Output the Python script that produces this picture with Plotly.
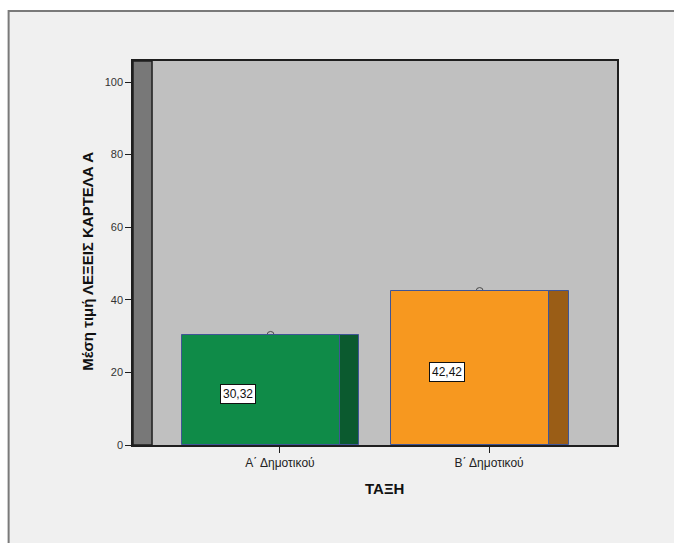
import plotly.graph_objects as go

# Mean score per grade
categories = ["Α΄ Δημοτικού", "Β΄ Δημοτικού"]
values = [30.32, 42.42]
front_colors = ["#0f8b48", "#f7981f"]
side_colors = ["#0b5a2f", "#9a5d16"]
y_ticks = [0, 20, 40, 60, 80, 100]

FONT = "Liberation Sans, Arial, sans-serif"
X_RANGE = [-0.703, 1.612]
WALL_END = -0.612
FRONT_OFFSET, FRONT_WIDTH = -0.468, 0.755
SIDE_OFFSET, SIDE_WIDTH = 0.287, 0.093
MARK_SHIFT = -0.045

fig = go.Figure()

# front faces of the pseudo-3D bars
fig.add_trace(go.Bar(
    x=categories, y=values, offset=FRONT_OFFSET, width=FRONT_WIDTH,
    marker=dict(color=front_colors, line=dict(color="#3f5596", width=1)),
    hoverinfo="skip", showlegend=False,
))
# right-hand depth faces
fig.add_trace(go.Bar(
    x=categories, y=values, offset=SIDE_OFFSET, width=SIDE_WIDTH,
    marker=dict(color=side_colors, line=dict(color="#3f5596", width=1)),
    hoverinfo="skip", showlegend=False,
))

shapes = [
    # outer chart frame
    dict(type="rect", xref="paper", yref="paper", x0=-0.257, x1=1.3, y0=-0.4, y1=1.13,
         fillcolor="#f0f0f0", line=dict(color="#7a7a7a", width=2), layer="below"),
    # back panel of the plotting box
    dict(type="rect", xref="paper", yref="paper", x0=0, x1=1, y0=0, y1=1,
         fillcolor="#c0c0c0", line=dict(width=0), layer="below"),
    # left wall of the 3D box
    dict(type="rect", xref="x", yref="paper", x0=X_RANGE[0], x1=WALL_END, y0=0, y1=1,
         fillcolor="#787878", line=dict(color="#1e1e1e", width=1.5), layer="below"),
]
annotations = []
for i, v in enumerate(values):
    # mean marker peeking out above each bar
    shapes.append(dict(
        type="circle", xref="x", yref="y", xsizemode="pixel", ysizemode="pixel",
        xanchor=i + MARK_SHIFT, yanchor=v, x0=-3.5, x1=3.5, y0=-3.5, y1=3.5,
        line=dict(color="#4a4a4a", width=1), layer="below",
    ))
    annotations.append(dict(
        x=i - 0.2, y=v / 2, xref="x", yref="y", yshift=-4,
        text=f"{v:.2f}".replace(".", ","), showarrow=False,
        bgcolor="white", bordercolor="#111111", borderwidth=1, borderpad=2,
        font=dict(family=FONT, size=12, color="#111111"),
    ))

annotations.append(dict(
    x=-0.093, y=0.48, xref="paper", yref="paper", textangle=-90,
    xanchor="center", yanchor="middle",
    text="<b>Μέση τιμή ΛΕΞΕΙΣ ΚΑΡΤΕΛΑ Α</b>", showarrow=False,
    font=dict(family=FONT, size=15, color="#111111"),
))
annotations.append(dict(
    x=0.52, y=-0.112, xref="paper", yref="paper",
    xanchor="center", yanchor="middle",
    text="<b>ΤΑΞΗ</b>", showarrow=False,
    font=dict(family=FONT, size=15, color="#111111"),
))

fig.update_layout(
    template="none",
    width=674, height=543,
    margin=dict(l=133, r=57, t=61, b=98),
    paper_bgcolor="white", plot_bgcolor="#c0c0c0",
    shapes=shapes, annotations=annotations,
    bargap=0,
    font=dict(family=FONT, size=11, color="#222222"),
)
fig.update_xaxes(
    type="category", range=X_RANGE, showgrid=False, zeroline=False,
    showline=True, mirror=True, linecolor="#1e1e1e", linewidth=1.5,
    ticks="outside", ticklen=6, tickcolor="#1e1e1e", tickwidth=1,
    tickfont=dict(family=FONT, size=12, color="#222222"),
)
fig.update_yaxes(
    range=[0, 105.8], tickvals=y_ticks, showgrid=False, zeroline=False,
    showline=True, mirror=True, linecolor="#1e1e1e", linewidth=1.5,
    ticks="outside", ticklen=6, tickcolor="#1e1e1e", tickwidth=1,
    tickfont=dict(family=FONT, size=11, color="#333333"),
)

fig.write_html("out.html")
